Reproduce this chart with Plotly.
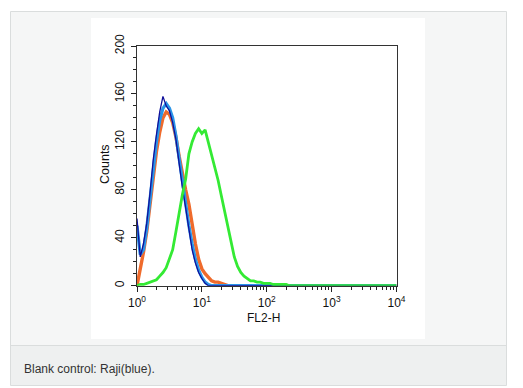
import plotly.graph_objects as go

# FL2-H bin positions (log10 decades) and counts per series
log_fl2h = [0.00, 0.05, 0.10, 0.15, 0.20, 0.25, 0.30, 0.35, 0.40, 0.45,
            0.50, 0.55, 0.60, 0.65, 0.70, 0.75, 0.80, 0.85, 0.90, 0.95,
            1.00, 1.05, 1.10, 1.15, 1.20, 1.25, 1.30, 1.35, 1.40, 1.45,
            1.50, 1.55, 1.60, 1.65, 1.70, 1.75, 1.80, 1.85, 1.90, 1.95,
            2.00, 2.05, 2.10, 2.15, 2.20, 2.25, 2.30, 2.35, 4.00]

dark_blue = [56, 24, 35, 52, 77, 105, 126, 145, 158, 150,
             146, 136, 122, 101, 82, 65, 47, 30, 19, 11,
             6, 2, 0, 0, 0, 0, 0, 0, 0, 0,
             0, 0, 0, 0, 0, 0, 0, 0, 0, 0,
             0, 0, 0, 0, 0, 0, 0, 0, 0]

light_blue = [50, 26, 30, 48, 72, 98, 120, 138, 148, 152,
              148, 140, 125, 106, 86, 68, 50, 35, 22, 13,
              7, 3, 1, 0, 0, 0, 0, 0, 0, 0,
              0, 0, 0, 0, 0, 0, 0, 0, 0, 0,
              0, 0, 0, 0, 0, 0, 0, 0, 0]

orange = [0, 13, 28, 45, 68, 92, 112, 128, 140, 145,
          143, 136, 124, 108, 92, 80, 68, 50, 35, 22,
          14, 10, 7, 4, 3, 3, 2, 1, 0, 0,
          0, 0, 0, 0, 0, 0, 0, 0, 0, 0,
          0, 0, 0, 0, 0, 0, 0, 0, 0]

green = [0, 1, 1, 2, 3, 4, 5, 8, 11, 15,
         22, 30, 45, 62, 76, 89, 110, 120, 127, 131,
         127, 130, 120, 108, 99, 88, 75, 62, 48, 35,
         24, 16, 11, 8, 6, 4, 4, 3, 3, 2,
         2, 2, 1, 1, 1, 1, 1, 0, 0]

x_tick_vals = [1, 10, 100, 1000, 10000]
x_tick_text = ["10<sup>0</sup>", "10<sup>1</sup>", "10<sup>2</sup>", "10<sup>3</sup>", "10<sup>4</sup>"]
y_tick_vals = [0, 40, 80, 120, 160, 200]

fl2h = [10 ** v for v in log_fl2h]

W, H = 523, 388
def px(x):
    return x / W
def py(y):
    return 1 - y / H

fig = go.Figure()
series = [
    ("Orange", orange, "#ef6b2c", 3.4),
    ("Light blue", light_blue, "#2a95e8", 3.2),
    ("Raji (blue)", dark_blue, "#10109a", 1.3),
    ("Green", green, "#34ea34", 2.8),
]
for name, vals, col, w in series:
    fig.add_trace(go.Scatter(x=fl2h, y=vals, mode="lines", name=name,
                             line=dict(color=col, width=w),
                             showlegend=False, hoverinfo="skip"))

font_family = "Liberation Sans, Arial, Helvetica, sans-serif"

shapes = [
    dict(type="rect", xref="paper", yref="paper", x0=px(10.5), x1=px(506.5), y0=py(385.5), y1=py(11.5),
         fillcolor="#f5f6f6", line=dict(color="#dadddd", width=1), layer="below"),
    dict(type="rect", xref="paper", yref="paper", x0=px(91), x1=px(425), y0=py(339), y1=py(18),
         fillcolor="#ffffff", line=dict(width=0), layer="below"),
    dict(type="rect", xref="paper", yref="paper", x0=px(11), x1=px(506), y0=py(385), y1=py(345.5),
         fillcolor="#eef0f0", line=dict(width=0), layer="below"),
    dict(type="line", xref="paper", yref="paper", x0=px(11), x1=px(506), y0=py(345.5), y1=py(345.5),
         line=dict(color="#dadddd", width=1), layer="below"),
]

fig.update_layout(
    width=W, height=H,
    margin=dict(l=0, r=0, t=0, b=0),
    paper_bgcolor="white", plot_bgcolor="rgba(0,0,0,0)",
    font=dict(family=font_family, color="#111111", size=12),
    shapes=shapes,
    xaxis=dict(type="log", range=[0, 4], domain=[px(137), px(396.5)], automargin=False,
               tickvals=x_tick_vals, ticktext=x_tick_text,
               ticks="outside", ticklen=5, tickwidth=1, tickcolor="#222",
               minor=dict(ticks="outside", ticklen=3, tickcolor="#222", dtick="D1", showgrid=False),
               ticklabelstandoff=1,
               showgrid=False, zeroline=False,
               showline=True, linecolor="#333", linewidth=1, mirror=True,
               tickfont=dict(size=12)),
    yaxis=dict(range=[0, 200], domain=[py(285.7), py(46)], automargin=False,
               tickvals=y_tick_vals, ticks="outside", ticklen=5, tickwidth=1, tickcolor="#222",
               minor=dict(ticks="outside", ticklen=3, tickcolor="#222", dtick=10, showgrid=False),
               tickangle=-90, ticklabelstandoff=2, showgrid=False, zeroline=False,
               showline=True, linecolor="#333", linewidth=1, mirror=True,
               tickfont=dict(size=12)),
    annotations=[
        dict(text="Counts", xref="paper", yref="paper", x=px(105), y=py(164),
             xanchor="center", yanchor="middle", textangle=-90, showarrow=False,
             font=dict(size=12.5, color="#111111", family=font_family)),
        dict(text="FL2-H", xref="paper", yref="paper", x=px(263), y=py(318),
             xanchor="center", yanchor="middle", showarrow=False,
             font=dict(size=12, color="#111111", family=font_family)),
        dict(text="Blank control: Raji(blue).", xref="paper", yref="paper",
             x=px(22), y=py(369), xanchor="left", yanchor="middle", showarrow=False,
             font=dict(size=12, color="#333333", family=font_family)),
    ],
)

fig.write_html("out.html", config={"displayModeBar": False, "staticPlot": True},
               post_script="document.body.style.margin='0px';document.body.style.padding='0px';document.body.style.overflow='hidden';")
